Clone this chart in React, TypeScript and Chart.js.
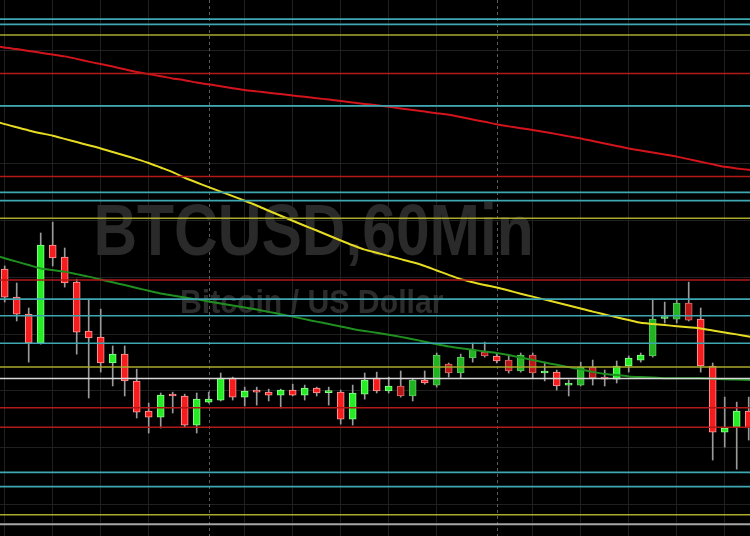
import { useEffect, useRef } from "react";
import { Chart, registerables } from "chart.js";

Chart.register(...registerables);

// ---- Data ----
const candleOpen = [
  7303.6, 7291.3, 7283.8, 7271.1, 7314.2, 7308.9, 7297.9, 7276.4, 7273.7, 7262.3,
  7266.2, 7254.4, 7241.2, 7238.5, 7248.2, 7247.8, 7235.0, 7245.1, 7246.0, 7255.7,
  7247.3, 7250.0, 7249.5, 7248.2, 7250.4, 7248.2, 7251.3, 7249.3, 7249.5, 7237.6,
  7248.6, 7255.7, 7250.0, 7252.2, 7247.8, 7254.8, 7252.6, 7261.8, 7257.9, 7264.5,
  7267.1, 7265.4, 7263.6, 7258.8, 7265.8, 7257.9, 7258.3, 7252.6, 7252.6, 7260.5,
  7256.1, 7255.2, 7261.0, 7263.6, 7265.4, 7281.9, 7281.6, 7288.7, 7281.6, 7261.0,
  7231.9, 7234.1, 7241.2,
];
const candleHigh = [
  7305.0, 7297.5, 7286.5, 7319.5, 7324.3, 7312.9, 7299.2, 7290.4, 7286.0, 7269.8,
  7269.8, 7259.6, 7244.7, 7249.1, 7249.5, 7248.6, 7249.1, 7249.5, 7257.9, 7256.1,
  7251.7, 7251.7, 7250.8, 7250.8, 7253.0, 7252.6, 7251.7, 7251.7, 7250.4, 7252.6,
  7257.9, 7258.3, 7256.1, 7258.8, 7255.2, 7258.8, 7266.7, 7262.3, 7266.2, 7271.1,
  7271.5, 7266.7, 7265.8, 7266.7, 7266.7, 7262.7, 7259.2, 7254.8, 7262.7, 7263.6,
  7259.2, 7263.2, 7265.4, 7266.7, 7290.4, 7289.1, 7290.4, 7297.9, 7286.5, 7262.3,
  7247.3, 7245.1, 7247.3,
];
const candleLow = [
  7289.1, 7280.8, 7262.7, 7270.6, 7305.0, 7295.7, 7266.2, 7246.9, 7258.3, 7252.2,
  7247.8, 7238.1, 7231.5, 7233.7, 7240.3, 7234.1, 7231.5, 7244.7, 7245.6, 7246.0,
  7243.4, 7243.8, 7245.6, 7242.5, 7247.8, 7246.0, 7247.8, 7243.8, 7235.4, 7235.0,
  7246.4, 7249.1, 7249.1, 7247.3, 7245.6, 7253.0, 7251.7, 7256.1, 7255.7, 7262.7,
  7264.9, 7262.3, 7257.9, 7258.3, 7255.7, 7254.4, 7250.4, 7247.8, 7252.2, 7252.6,
  7252.2, 7253.5, 7258.3, 7262.7, 7264.9, 7279.9, 7279.9, 7280.8, 7258.3, 7219.6,
  7225.3, 7215.6, 7228.4,
];
const candleClose = [
  7291.3, 7283.8, 7271.1, 7314.2, 7308.5, 7297.5, 7275.9, 7273.3, 7262.3, 7266.2,
  7254.4, 7240.7, 7238.5, 7248.2, 7247.8, 7235.0, 7246.4, 7246.4, 7255.7, 7247.3,
  7250.0, 7249.5, 7248.2, 7250.4, 7248.2, 7251.3, 7249.1, 7249.7, 7237.6, 7249.1,
  7254.8, 7250.0, 7252.2, 7247.8, 7254.8, 7253.5, 7265.8, 7257.9, 7264.9, 7268.0,
  7265.4, 7263.2, 7258.8, 7265.8, 7257.9, 7258.8, 7252.2, 7253.0, 7260.5, 7255.7,
  7255.2, 7261.0, 7264.5, 7265.8, 7281.6, 7282.3, 7288.7, 7281.2, 7261.0, 7231.9,
  7233.7, 7241.2, 7233.7,
];

// moving averages, one value per bar position starting one bar before the first candle
const maStartIndex = -1;
const maSlow = [
  7402.0, 7401.1, 7400.4, 7399.6, 7398.8, 7398.0, 7397.2, 7396.1, 7394.9, 7393.8,
  7392.7, 7391.5, 7390.3, 7389.4, 7388.5, 7387.5, 7386.7, 7385.7, 7384.9, 7384.1,
  7383.2, 7382.4, 7381.8, 7381.2, 7380.6, 7380.0, 7379.4, 7378.8, 7378.2, 7377.6,
  7376.9, 7376.3, 7375.7, 7375.0, 7374.3, 7373.6, 7372.9, 7372.2, 7371.5, 7370.5,
  7369.4, 7368.4, 7367.3, 7366.4, 7365.6, 7364.8, 7363.9, 7363.0, 7362.0, 7361.1,
  7360.0, 7358.9, 7357.8, 7356.7, 7355.8, 7354.9, 7354.0, 7353.1, 7352.0, 7350.8,
  7349.7, 7348.6, 7347.9, 7347.3, 7346.6,
];
const maMid = [
  7369.0, 7367.4, 7366.0, 7364.6, 7363.4, 7362.3, 7360.9, 7359.5, 7358.1, 7356.7,
  7355.1, 7353.6, 7352.0, 7350.3, 7348.3, 7346.3, 7343.8, 7341.7, 7339.7, 7337.7,
  7335.7, 7333.7, 7331.6, 7329.3, 7327.1, 7324.9, 7322.7, 7320.6, 7318.4, 7316.2,
  7314.1, 7312.2, 7310.8, 7309.4, 7308.0, 7306.6, 7305.0, 7303.0, 7301.1, 7299.2,
  7297.8, 7296.6, 7295.5, 7294.2, 7292.8, 7291.5, 7290.2, 7288.9, 7287.6, 7286.3,
  7284.9, 7283.7, 7282.4, 7281.2, 7280.0, 7279.5, 7279.0, 7278.5, 7278.0, 7277.5,
  7276.6, 7275.7, 7274.9, 7274.0, 7273.1,
];
const maFast = [
  7310.0, 7308.4, 7306.9, 7305.4, 7303.9, 7303.2, 7302.5, 7301.4, 7300.3, 7299.0,
  7297.8, 7296.6, 7295.3, 7294.1, 7292.9, 7292.0, 7291.1, 7290.3, 7289.4, 7288.5,
  7287.6, 7286.7, 7285.8, 7284.8, 7283.8, 7282.7, 7281.6, 7280.5, 7279.5, 7278.4,
  7277.3, 7276.4, 7275.6, 7274.7, 7273.8, 7272.8, 7271.7, 7270.6, 7269.6, 7268.8,
  7268.1, 7267.4, 7266.7, 7265.8, 7264.7, 7263.6, 7262.5, 7261.5, 7260.5, 7259.5,
  7258.4, 7257.5, 7257.0, 7256.4, 7256.1, 7255.9, 7255.6, 7255.6, 7255.6, 7255.6,
  7255.4, 7255.2, 7255.0, 7254.8, 7254.7,
];

// horizontal price levels
const cyanLevels = [7413.6, 7411.3, 7375.4, 7337.4, 7333.7, 7290.4, 7283.1, 7271.0, 7214.2, 7207.9];
const yellowLevels = [7406.6, 7326.0, 7260.6, 7195.5];
const redLevels = [7389.7, 7344.3, 7298.8, 7242.6, 7234.0];
const whiteLevels = [7255.5];
const grayLevels = [7191.4];

// grid
const gridPrices = [7200, 7225, 7250, 7275, 7300, 7325, 7350, 7375, 7400];
const gridBars = [0, 4, 8, 12, 20, 24, 28, 32, 36, 44, 48, 52, 56, 60];
const sessionBreaks = [17, 41];

const titleText = "BTCUSD,60Min";
const subtitleText = "Bitcoin / US Dollar";

// ---- Styles ----
const dimBars = new Set([33, 34, 36, 37, 38, 39, 40, 42, 43, 44, 48, 49, 50, 54, 56, 57]);
const PRICE_MIN = 7186.2;
const PRICE_MAX = 7422;
const X_MIN = -0.392;
const X_MAX = 62.108;

const watermarkPlugin = {
  id: "watermark",
  beforeDatasetsDraw(chart: any) {
    const { ctx, scales } = chart;
    const xs = scales.x;
    const ys = scales.y;
    ctx.save();
    // dashed session separators
    ctx.strokeStyle = "#5c5c5c";
    ctx.lineWidth = 1;
    ctx.setLineDash([3, 3]);
    for (const b of sessionBreaks) {
      const px = Math.round(xs.getPixelForValue(b)) + 0.5;
      ctx.beginPath();
      ctx.moveTo(px, ys.top);
      ctx.lineTo(px, ys.bottom);
      ctx.stroke();
    }
    ctx.setLineDash([]);

    const drawFit = (text: string, size: number, left: number, right: number, baseline: number, color: string) => {
      ctx.save();
      ctx.font = `bold ${size}px "Liberation Sans", Arial, sans-serif`;
      ctx.fillStyle = color;
      ctx.textAlign = "left";
      ctx.textBaseline = "alphabetic";
      const m = ctx.measureText(text);
      const ink = m.actualBoundingBoxLeft + m.actualBoundingBoxRight;
      const sx = (right - left) / ink;
      ctx.translate(left, baseline);
      ctx.scale(sx, 1);
      ctx.fillText(text, m.actualBoundingBoxLeft, 0);
      ctx.restore();
    };
    drawFit(titleText, 73, 96.7, 530.7, 255, "#2a2a2a");
    drawFit(subtitleText, 34, 181.7, 443.3, 313, "#2c2c2c");
    ctx.restore();
  },
};

const levelsPlugin = {
  id: "levels",
  afterDatasetsDraw(chart: any) {
    const { ctx, chartArea, scales } = chart;
    const ys = scales.y;
    const groups: [number[], string, number][] = [
      [cyanLevels, "#3fa7b2", 1.7],
      [yellowLevels, "#aaaa2c", 1.5],
      [redLevels, "#b21a1a", 1.5],
      [whiteLevels, "#d8d8d8", 1.6],
      [grayLevels, "#a6a6a6", 2],
    ];
    ctx.save();
    for (const [levels, color, w] of groups) {
      ctx.strokeStyle = color;
      ctx.lineWidth = w;
      for (const v of levels) {
        const py = ys.getPixelForValue(v);
        ctx.beginPath();
        ctx.moveTo(chartArea.left, py);
        ctx.lineTo(chartArea.right, py);
        ctx.stroke();
      }
    }
    ctx.restore();
  },
};

export default function App() {
  const canvasRef = useRef<HTMLCanvasElement | null>(null);

  useEffect(() => {
    document.body.style.margin = "0";
    document.body.style.background = "#000";
    const canvas = canvasRef.current;
    if (!canvas) return;

    const up = candleOpen.map((o, i) => candleClose[i] >= o);
    const bodyFill = up.map((u, i) =>
      u ? (dimBars.has(i) ? "#21b321" : "#25ec25") : dimBars.has(i) ? "#b81717" : "#f41c1c"
    );
    const bodyBorder = up.map((u, i) =>
      u ? (dimBars.has(i) ? "#63c763" : "#8cff8c") : dimBars.has(i) ? "#dd6b6b" : "#ff9b9b"
    );

    const toLine = (arr: number[]) => arr.map((v, i) => ({ x: i + maStartIndex, y: v }));

    const chart = new Chart(canvas, {
      type: "bar",
      data: {
        datasets: [
          {
            type: "line",
            label: "MA slow",
            data: toLine(maSlow),
            borderColor: "#d3141c",
            borderWidth: 2,
            pointRadius: 0,
            tension: 0.2,
            order: 0,
          } as any,
          {
            type: "line",
            label: "MA mid",
            data: toLine(maMid),
            borderColor: "#e6dc22",
            borderWidth: 2,
            pointRadius: 0,
            tension: 0.2,
            order: 0,
          } as any,
          {
            type: "line",
            label: "MA fast",
            data: toLine(maFast),
            borderColor: "#1f8f1f",
            borderWidth: 2,
            pointRadius: 0,
            tension: 0.2,
            order: 0,
          } as any,
          {
            type: "bar",
            label: "bodies",
            data: candleOpen.map((o, i) => ({ x: i, y: [o, candleClose[i]] })),
            backgroundColor: bodyFill,
            borderColor: bodyBorder,
            borderWidth: 1,
            borderSkipped: false,
            barThickness: 7,
            minBarLength: 2,
            grouped: false,
            order: 1,
          } as any,
          {
            type: "bar",
            label: "wicks",
            data: candleLow.map((l, i) => ({ x: i, y: [l, candleHigh[i]] })),
            backgroundColor: "#9a9a9a",
            borderWidth: 0,
            barThickness: 1,
            grouped: false,
            order: 2,
          } as any,
        ],
      },
      options: {
        responsive: false,
        maintainAspectRatio: false,
        animation: false,
        layout: { padding: 0 },
        plugins: {
          legend: { display: false },
          tooltip: { enabled: false },
        },
        scales: {
          x: {
            type: "linear",
            min: X_MIN,
            max: X_MAX,
            offset: false,
            grid: { color: "#202020", lineWidth: 1, drawTicks: false, offset: false },
            border: { display: false },
            ticks: { display: false },
            afterBuildTicks: (s: any) => {
              s.ticks = gridBars.map((v) => ({ value: v }));
            },
          },
          y: {
            type: "linear",
            min: PRICE_MIN,
            max: PRICE_MAX,
            beginAtZero: false,
            grid: { color: "#202020", lineWidth: 1, drawTicks: false },
            border: { display: false },
            ticks: { display: false },
            afterBuildTicks: (s: any) => {
              s.ticks = gridPrices.map((v) => ({ value: v }));
            },
          },
        },
      } as any,
      plugins: [watermarkPlugin, levelsPlugin],
    });

    return () => chart.destroy();
  }, []);

  return (
    <div style={{ position: "fixed", left: 0, top: 0, width: 750, height: 536, background: "#000" }}>
      <canvas ref={canvasRef} width={750} height={536} style={{ display: "block", background: "#000" }} />
    </div>
  );
}
